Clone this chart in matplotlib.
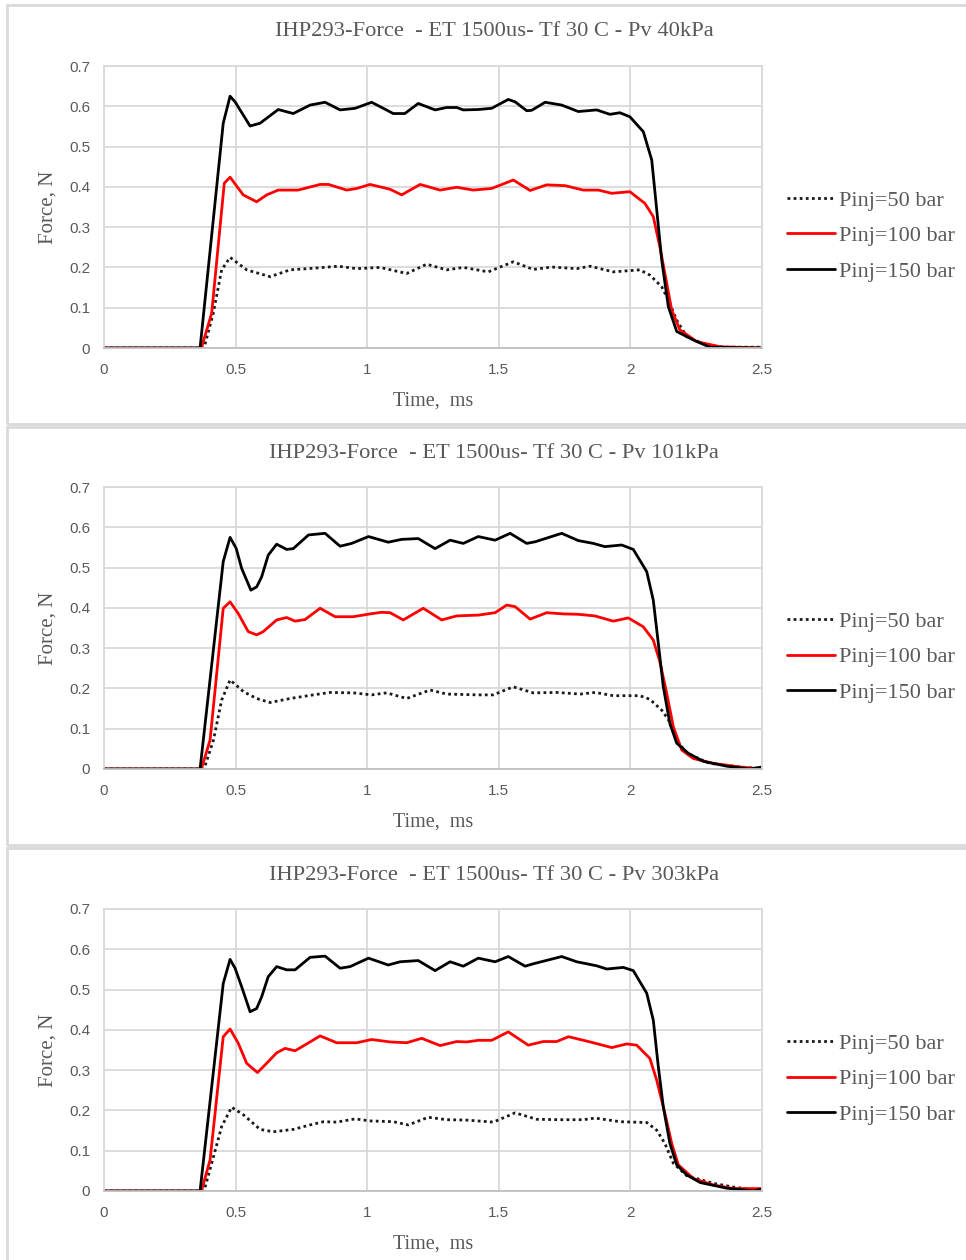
import matplotlib
matplotlib.use("Agg")
import matplotlib.pyplot as plt
from matplotlib.patches import Rectangle

# ---- force traces, Pv = 40 kPa ----
t_40_50 = [0, 0.38, 0.415, 0.447, 0.479, 0.542, 0.631, 0.707, 0.795, 0.890, 0.960, 1.049, 1.150, 1.226,
           1.302, 1.365, 1.460, 1.555, 1.631, 1.701, 1.796, 1.847, 1.935, 2.036, 2.074, 2.119, 2.144,
           2.176, 2.214, 2.290, 2.36, 2.5]
f_40_50 = [0, 0, 0.086, 0.194, 0.225, 0.194, 0.177, 0.194, 0.198, 0.203, 0.197, 0.200, 0.185, 0.208,
           0.194, 0.200, 0.189, 0.214, 0.195, 0.201, 0.197, 0.203, 0.189, 0.194, 0.181, 0.152, 0.119,
           0.069, 0.028, 0.007, 0.002, 0.002]
t_40_100 = [0, 0.37, 0.409, 0.457, 0.479, 0.529, 0.580, 0.618, 0.662, 0.738, 0.821, 0.853, 0.922, 0.960,
            1.011, 1.087, 1.131, 1.201, 1.277, 1.340, 1.403, 1.473, 1.555, 1.619, 1.682, 1.752, 1.821,
            1.878, 1.929, 1.998, 2.055, 2.087, 2.112, 2.131, 2.157, 2.188, 2.252, 2.340, 2.5]
f_40_100 = [0, 0, 0.086, 0.409, 0.424, 0.380, 0.363, 0.380, 0.392, 0.392, 0.406, 0.406, 0.392, 0.396,
            0.406, 0.394, 0.380, 0.406, 0.392, 0.399, 0.392, 0.396, 0.417, 0.391, 0.405, 0.403, 0.392,
            0.392, 0.384, 0.388, 0.359, 0.326, 0.251, 0.185, 0.094, 0.045, 0.016, 0.003, 0.0]
t_40_150 = [0, 0.365, 0.453, 0.479, 0.498, 0.555, 0.593, 0.662, 0.719, 0.783, 0.840, 0.897, 0.954, 1.017,
            1.099, 1.143, 1.194, 1.258, 1.302, 1.340, 1.365, 1.422, 1.473, 1.536, 1.562, 1.606, 1.625,
            1.676, 1.739, 1.802, 1.872, 1.922, 1.960, 1.998, 2.049, 2.081, 2.100, 2.119, 2.144, 2.176,
            2.239, 2.302, 2.5]
f_40_150 = [0, 0, 0.558, 0.625, 0.611, 0.551, 0.558, 0.592, 0.582, 0.603, 0.610, 0.591, 0.595, 0.610,
            0.582, 0.582, 0.607, 0.591, 0.597, 0.597, 0.591, 0.592, 0.595, 0.617, 0.611, 0.589, 0.590,
            0.610, 0.603, 0.587, 0.591, 0.580, 0.584, 0.574, 0.537, 0.467, 0.343, 0.218, 0.103, 0.041,
            0.020, 0.002, 0.0]

# ---- force traces, Pv = 101 kPa ----
t_101_50 = [0, 0.38, 0.416, 0.447, 0.479, 0.530, 0.580, 0.631, 0.707, 0.795, 0.859, 0.947, 1.017, 1.074,
            1.150, 1.239, 1.302, 1.422, 1.479, 1.555, 1.631, 1.720, 1.809, 1.866, 1.935, 2.036, 2.074,
            2.119, 2.144, 2.176, 2.214, 2.302, 2.416, 2.5]
f_101_50 = [0, 0, 0.072, 0.171, 0.221, 0.192, 0.175, 0.165, 0.175, 0.184, 0.190, 0.189, 0.184, 0.189,
            0.175, 0.196, 0.186, 0.184, 0.184, 0.204, 0.189, 0.190, 0.186, 0.190, 0.182, 0.182, 0.173,
            0.146, 0.123, 0.072, 0.039, 0.014, 0.005, 0.001]
t_101_100 = [0, 0.37, 0.403, 0.453, 0.479, 0.510, 0.548, 0.580, 0.605, 0.656, 0.694, 0.726, 0.764, 0.821,
             0.878, 0.947, 1.011, 1.055, 1.087, 1.137, 1.213, 1.283, 1.340, 1.422, 1.486, 1.530, 1.562,
             1.619, 1.682, 1.745, 1.802, 1.865, 1.935, 1.992, 2.049, 2.087, 2.112, 2.138, 2.163, 2.195,
             2.239, 2.315, 2.416, 2.5]
f_101_100 = [0, 0, 0.072, 0.399, 0.415, 0.386, 0.341, 0.333, 0.341, 0.370, 0.376, 0.367, 0.371, 0.399,
             0.378, 0.378, 0.385, 0.389, 0.388, 0.370, 0.399, 0.370, 0.380, 0.382, 0.388, 0.407, 0.403,
             0.372, 0.388, 0.385, 0.384, 0.380, 0.367, 0.375, 0.353, 0.320, 0.266, 0.188, 0.105, 0.047,
             0.026, 0.014, 0.005, 0.0]
t_101_150 = [0, 0.365, 0.453, 0.479, 0.502, 0.523, 0.558, 0.580, 0.599, 0.624, 0.656, 0.694, 0.719, 0.777,
             0.840, 0.897, 0.941, 1.005, 1.080, 1.131, 1.194, 1.258, 1.315, 1.365, 1.422, 1.486, 1.543,
             1.606, 1.638, 1.739, 1.802, 1.859, 1.903, 1.967, 2.011, 2.062, 2.087, 2.106, 2.125, 2.150,
             2.176, 2.220, 2.277, 2.366, 2.455, 2.5]
f_101_150 = [0, 0, 0.515, 0.575, 0.548, 0.498, 0.444, 0.452, 0.477, 0.531, 0.558, 0.545, 0.547, 0.581,
             0.585, 0.553, 0.560, 0.577, 0.563, 0.570, 0.572, 0.547, 0.568, 0.560, 0.577, 0.568, 0.585,
             0.560, 0.564, 0.585, 0.567, 0.560, 0.552, 0.556, 0.545, 0.490, 0.419, 0.312, 0.204, 0.113,
             0.064, 0.039, 0.019, 0.007, 0.0, 0.005]

# ---- force traces, Pv = 303 kPa ----
t_303_50 = [0, 0.38, 0.416, 0.447, 0.485, 0.530, 0.593, 0.643, 0.720, 0.783, 0.834, 0.884, 0.954, 1.011,
            1.099, 1.156, 1.232, 1.302, 1.378, 1.479, 1.562, 1.644, 1.733, 1.821, 1.866, 1.961, 2.062,
            2.100, 2.131, 2.163, 2.214, 2.315, 2.398, 2.5]
f_303_50 = [0, 0, 0.085, 0.160, 0.208, 0.189, 0.153, 0.147, 0.153, 0.164, 0.172, 0.171, 0.179, 0.174,
            0.172, 0.164, 0.183, 0.177, 0.176, 0.171, 0.194, 0.178, 0.177, 0.177, 0.181, 0.172, 0.170,
            0.151, 0.118, 0.069, 0.038, 0.019, 0.009, 0.001]
t_303_100 = [0, 0.37, 0.403, 0.453, 0.479, 0.510, 0.542, 0.583, 0.618, 0.656, 0.688, 0.726, 0.770, 0.821,
             0.884, 0.960, 1.017, 1.087, 1.150, 1.207, 1.277, 1.340, 1.378, 1.422, 1.473, 1.536, 1.612,
             1.669, 1.720, 1.765, 1.847, 1.929, 1.986, 2.024, 2.074, 2.100, 2.131, 2.157, 2.182, 2.239,
             2.315, 2.391, 2.5]
f_303_100 = [0, 0, 0.077, 0.383, 0.402, 0.367, 0.317, 0.294, 0.317, 0.343, 0.354, 0.348, 0.365, 0.385,
             0.368, 0.368, 0.376, 0.370, 0.368, 0.379, 0.361, 0.371, 0.370, 0.374, 0.374, 0.395, 0.362,
             0.371, 0.371, 0.383, 0.370, 0.356, 0.365, 0.362, 0.329, 0.275, 0.193, 0.118, 0.065, 0.031,
             0.015, 0.006, 0.006]
t_303_150 = [0, 0.365, 0.453, 0.479, 0.498, 0.523, 0.555, 0.580, 0.599, 0.624, 0.656, 0.694, 0.726, 0.783,
             0.840, 0.897, 0.935, 1.005, 1.080, 1.125, 1.194, 1.258, 1.315, 1.365, 1.422, 1.486, 1.536,
             1.600, 1.631, 1.739, 1.796, 1.872, 1.910, 1.973, 2.011, 2.062, 2.087, 2.106, 2.125, 2.150,
             2.176, 2.214, 2.265, 2.366, 2.468, 2.5]
f_303_150 = [0, 0, 0.515, 0.575, 0.553, 0.507, 0.445, 0.453, 0.482, 0.532, 0.557, 0.549, 0.549, 0.580,
             0.583, 0.553, 0.557, 0.578, 0.561, 0.569, 0.572, 0.547, 0.569, 0.558, 0.578, 0.569, 0.582,
             0.558, 0.564, 0.582, 0.569, 0.559, 0.551, 0.555, 0.547, 0.491, 0.424, 0.309, 0.209, 0.118,
             0.065, 0.040, 0.021, 0.007, 0.0, 0.005]

vacuum_labels = ["40kPa", "101kPa", "303kPa"]
series_labels = ["Pinj=50 bar", "Pinj=100 bar", "Pinj=150 bar"]
x_ticks = [0, 0.5, 1, 1.5, 2, 2.5]
x_tick_labels = ["0", "0.5", "1", "1.5", "2", "2.5"]
y_ticks = [0, 0.1, 0.2, 0.3, 0.4, 0.5, 0.6, 0.7]
y_tick_labels = ["0", "0.1", "0.2", "0.3", "0.4", "0.5", "0.6", "0.7"]

panels = [
    [(t_40_50, f_40_50), (t_40_100, f_40_100), (t_40_150, f_40_150)],
    [(t_101_50, f_101_50), (t_101_100, f_101_100), (t_101_150, f_101_150)],
    [(t_303_50, f_303_50), (t_303_100, f_303_100), (t_303_150, f_303_150)],
]

styles = [
    dict(color="#1a1a1a", lw=2.0, ls=(0, (1, 1.2)), dash_capstyle="butt"),
    dict(color="#ff0000", lw=2.0, ls="-"),
    dict(color="#000000", lw=2.0, ls="-"),
]

SERIF = "Liberation Serif"
SANS = "Liberation Sans"
TXT = "#595959"
GRID = "#d9d9d9"

W, H = 966, 1260
fig = plt.figure(figsize=(W / 100, H / 100), dpi=100)

# chart frames (top y, bottom y in pixels)
frames = [(5, 424), (427, 845), (848, 1262)]
# plot area top/bottom in pixels
plot_boxes = [(66, 348), (487, 769), (909, 1191)]
title_y = [32, 453, 875]
x0, x1 = 104, 762

for i, (vac, curves) in enumerate(zip(vacuum_labels, panels)):
    top, bot = frames[i]
    fig.patches.append(Rectangle((7 / W, 1 - bot / H), 1.0, (bot - top) / H,
                                 transform=fig.transFigure, fill=False,
                                 edgecolor=GRID, lw=2.0, zorder=0))

    ptop, pbot = plot_boxes[i]
    ph = pbot - ptop
    ax = fig.add_axes([x0 / W, 1 - pbot / H, (x1 - x0) / W, ph / H])

    for (t, f), lab, st in zip(curves, series_labels, styles):
        ax.plot(t, f, label=lab, solid_joinstyle="round", solid_capstyle="round", **st)

    ax.set_xlim(0, 2.5)
    ax.set_ylim(0, 0.7)
    ax.set_xticks(x_ticks)
    ax.set_xticklabels(x_tick_labels, fontfamily=SANS, fontsize=11, color=TXT)
    ax.set_yticks(y_ticks)
    ax.set_yticklabels(y_tick_labels, fontfamily=SANS, fontsize=11, color=TXT)
    ax.tick_params(axis="x", length=0, pad=11)
    ax.tick_params(axis="y", length=0, pad=10)
    ax.grid(True, color=GRID, lw=1.3)
    ax.set_axisbelow(True)
    for sp in ax.spines.values():
        sp.set_color(GRID)
        sp.set_linewidth(1.3)
    ax.spines["bottom"].set_color("#bfbfbf")

    ax.set_xlabel("Time,  ms", fontfamily=SERIF, fontsize=14.5, color=TXT, va="center")
    ax.xaxis.set_label_coords(0.5, -53 / ph)
    ax.set_ylabel("Force, N", fontfamily=SERIF, fontsize=15, color=TXT, va="center")
    ax.yaxis.set_label_coords((48 - x0) / (x1 - x0), 0.5)

    fig.text(494 / W, 1 - title_y[i] / H,
             "IHP293-Force  - ET 1500us- Tf 30 C - Pv " + vac,
             fontfamily=SERIF, fontsize=16.2, color=TXT, ha="center", va="center")

    ax.legend(loc="center left", bbox_to_anchor=((787 - x0) / (x1 - x0), (ph - 170) / ph),
              frameon=False, borderpad=0, borderaxespad=0, handlelength=2.15,
              handletextpad=0.2, labelspacing=0.68,
              prop={"family": SERIF, "size": 16}, labelcolor=TXT)

fig.savefig("out.png", dpi=100)
